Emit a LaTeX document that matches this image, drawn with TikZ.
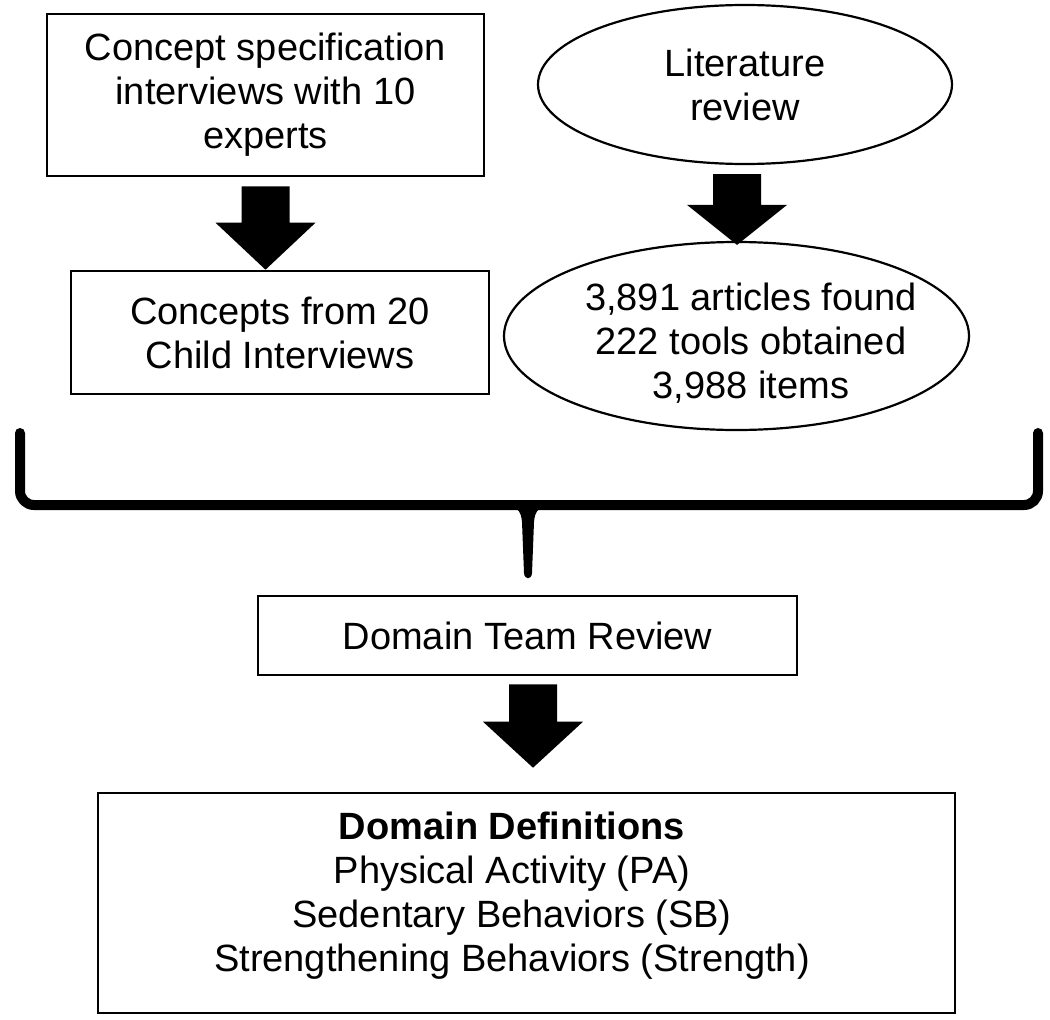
\documentclass[tikz,border=0pt]{standalone}
\usepackage{fontspec}
\setmainfont{Liberation Sans}
\usetikzlibrary{shapes.geometric,calc}
\newcommand{\blockarrow}[3]{%
  \fill let \p1=(#1), \p2=(#2) in
   (\x1-24pt,\y1) -- (\x1+24pt,\y1) -- (\x1+24pt,\y2+#3) -- (\x1+50pt,\y2+#3)
   -- (\x1,\y2) -- (\x1-50pt,\y2+#3) -- (\x1-24pt,\y2+#3) -- cycle;}
\tikzset{
  txt/.style={font=\fontsize{38pt}{44pt}\selectfont, align=center, inner sep=0pt},
  rbox/.style={txt, draw, line width=2.6pt, rectangle},
  ell/.style={txt, draw, line width=2.2pt, ellipse},
  bracepath/.style={line width=10pt, line cap=round, line join=round, rounded corners=14pt}
}
\begin{document}
\begin{tikzpicture}[x=1pt,y=-1pt]
\useasboundingbox (0,0) rectangle (1050,1020);
\fill[white] (0,0) rectangle (1050,1020);

\node[rbox, minimum width=437pt, minimum height=162pt] (box1) at (265.5,95)
  {Concept specification\\interviews with 10\\experts};
\node[ell, minimum width=414pt, minimum height=159pt] (ell1) at (745,84.5)
  {Literature\\review};
\node[rbox, minimum width=418pt, minimum height=123pt] (box2) at (280,332.5)
  {Concepts from 20\\Child Interviews};
\node[ell, minimum width=465pt, minimum height=188pt] (ell2) at (736.5,336) {};
\node[txt] (ell2t) at (751,343)
  {3,891 articles found\\222 tools obtained\\3,988 items};
\node[rbox, minimum width=539pt, minimum height=79pt] (dtr) at (527.5,635.5)
  {Domain Team Review};
\node[rbox, minimum width=857pt, minimum height=220pt] (defs) at (526.5,903) {};
\node[txt] (defst) at (512,896)
  {\textbf{Domain Definitions}\\Physical Activity (PA)\\Sedentary Behaviors (SB)\\Strengthening Behaviors (Strength)};

% block arrows
\coordinate (a1s) at ([yshift=-9pt]box1.south);
\coordinate (a1e) at (a1s |- box2.north);
\blockarrow{a1s}{a1e}{47pt}

\coordinate (a2s) at ([xshift=-8pt,yshift=-9pt]ell1.south);
\path (a2s |- ell2.north) ++(0,4) coordinate (a2e);
\blockarrow{a2s}{a2e}{40pt}

\coordinate (a3s) at ([xshift=5.5pt,yshift=-8pt]dtr.south);
\path (a3s |- defs.north) ++(0,-24) coordinate (a3e);
\blockarrow{a3s}{a3e}{46pt}

% brace
\coordinate (bl) at (20,433);
\coordinate (br) at (1038,433);
\draw[bracepath] (bl) -- (20,505) -- (1038,505) -- (br);
\fill (498,505) .. controls (517,505) and (521,510) .. (522,522)
  -- (524,573) .. controls (524.5,580) and (531.5,580) .. (532,573)
  -- (534,522) .. controls (535,510) and (539,505) .. (558,505) -- cycle;
\end{tikzpicture}
\end{document}
